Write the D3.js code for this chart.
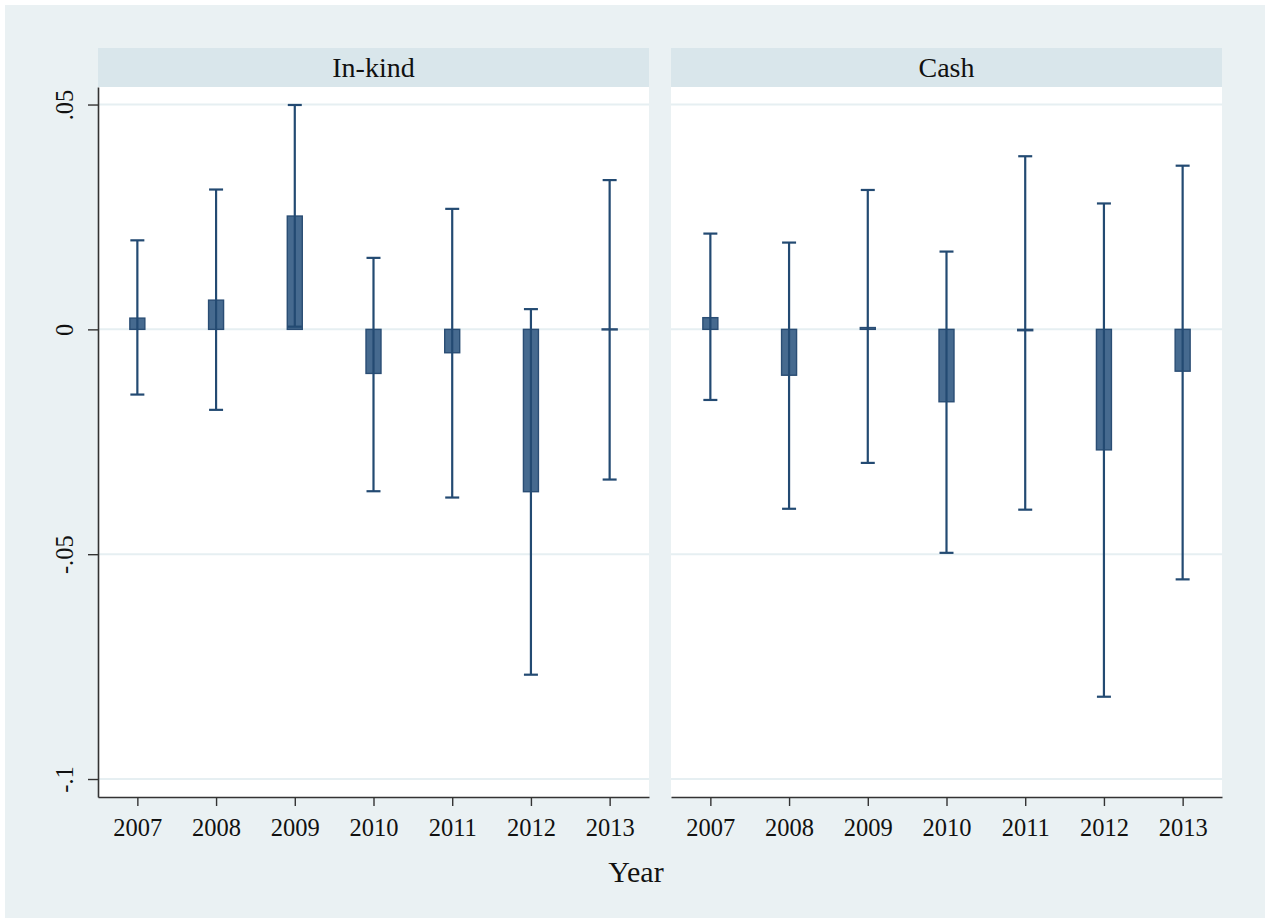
<!DOCTYPE html>
<html>
<head>
<meta charset="utf-8">
<script src="https://cdn.jsdelivr.net/npm/d3@7"></script>
<style>
  html, body { margin: 0; padding: 0; background: #ffffff; }
  svg { display: block; }
  text { font-family: "Liberation Serif", "DejaVu Serif", serif; fill: #111; }
</style>
</head>
<body>
<svg id="chart" width="1265" height="918"></svg>
<script>
// ---- data ----
const years = [2007, 2008, 2009, 2010, 2011, 2012, 2013];
const panels = ["In-kind", "Cash"];
const inkindEst = [0.0025, 0.0065, 0.0252, -0.0098, -0.0052, -0.0361, 0.0001];
const inkindLo  = [-0.0145, -0.0179, 0.0006, -0.0360, -0.0374, -0.0768, -0.0334];
const inkindHi  = [0.0198, 0.0311, 0.0499, 0.0159, 0.0268, 0.0045, 0.0332];
const cashEst = [0.0026, -0.0102, 0.0004, -0.0161, -0.0003, -0.0268, -0.0093];
const cashLo  = [-0.0157, -0.0399, -0.0297, -0.0497, -0.0401, -0.0817, -0.0556];
const cashHi  = [0.0213, 0.0193, 0.0310, 0.0173, 0.0385, 0.0280, 0.0364];
const yTickValues = [0.05, 0, -0.05, -0.1];
const yTickLabels = [".05", "0", "-.05", "-.1"];
const xAxisTitle = "Year";

const series = [
  { name: panels[0], est: inkindEst, lo: inkindLo, hi: inkindHi },
  { name: panels[1], est: cashEst, lo: cashLo, hi: cashHi }
];

const svg = d3.select("#chart");
const bg = "#eaf1f3";

// background
svg.append("rect").attr("x", 5).attr("y", 5).attr("width", 1260).attr("height", 913).attr("fill", bg);

const plotTop = 87, plotBottom = 797, stripTop = 48;
const panelX = [[98, 649], [671, 1222]];

const y = d3.scaleLinear().domain([-0.104, 0.0539]).range([plotBottom, plotTop]);

series.forEach((s, pi) => {
  const [x0, x1] = panelX[pi];
  const x = d3.scaleLinear().domain([2006.5, 2013.5]).range([x0, x1]);
  const g = svg.append("g");

  // strip
  g.append("rect").attr("x", x0).attr("y", stripTop).attr("width", x1 - x0).attr("height", plotTop - stripTop).attr("fill", "#d9e6eb");
  g.append("text").attr("x", (x0 + x1) / 2).attr("y", 77).attr("text-anchor", "middle")
    .style("font-size", "28px").text(s.name);

  // plot area
  g.append("rect").attr("x", x0).attr("y", plotTop).attr("width", x1 - x0).attr("height", plotBottom - plotTop).attr("fill", "#ffffff");

  // gridlines
  g.selectAll("line.grid").data(yTickValues).join("line").attr("class", "grid")
    .attr("x1", x0).attr("x2", x1).attr("y1", d => y(d)).attr("y2", d => y(d))
    .attr("stroke", "#e6eff2").attr("stroke-width", 2);

  // bars
  g.selectAll("rect.bar").data(years).join("rect").attr("class", "bar")
    .attr("x", (d) => x(d) - 7.5)
    .attr("width", 15)
    .attr("y", (d, i) => Math.min(y(0), y(s.est[i])))
    .attr("height", (d, i) => Math.max(1, Math.abs(y(s.est[i]) - y(0))))
    .attr("fill", "#466a8f").attr("stroke", "#2a4d74").attr("stroke-width", 1.4);

  // error bars
  const eb = g.selectAll("g.eb").data(years).join("g").attr("class", "eb");
  eb.append("line").attr("x1", d => x(d)).attr("x2", d => x(d))
    .attr("y1", (d, i) => y(s.lo[i])).attr("y2", (d, i) => y(s.hi[i]))
    .attr("stroke", "#234a72").attr("stroke-width", 2.2);
  eb.append("line").attr("x1", d => x(d) - 7).attr("x2", d => x(d) + 7)
    .attr("y1", (d, i) => y(s.lo[i])).attr("y2", (d, i) => y(s.lo[i]))
    .attr("stroke", "#234a72").attr("stroke-width", 2.2);
  eb.append("line").attr("x1", d => x(d) - 7).attr("x2", d => x(d) + 7)
    .attr("y1", (d, i) => y(s.hi[i])).attr("y2", (d, i) => y(s.hi[i]))
    .attr("stroke", "#234a72").attr("stroke-width", 2.2);

  // x axis
  const xAxis = d3.axisBottom(x).tickValues(years).tickFormat(d3.format("d")).tickSize(9).tickSizeOuter(0).tickPadding(13);
  const gx = g.append("g").attr("transform", `translate(0,${plotBottom})`).call(xAxis);
  gx.select(".domain").attr("stroke", "#333").attr("stroke-width", 1.6);
  gx.selectAll(".tick line").attr("stroke", "#333").attr("stroke-width", 1.4);
  gx.selectAll(".tick text").style("font-size", "24.5px").style("font-family", "Liberation Serif, serif").attr("fill", "#111");

  if (pi === 0) {
    const yAxis = d3.axisLeft(y).tickValues(yTickValues).tickFormat((d, i) => yTickLabels[i]).tickSize(10).tickSizeOuter(0).tickPadding(10);
    const gy = g.append("g").attr("transform", `translate(${x0},0)`).call(yAxis);
    gy.select(".domain").attr("stroke", "#333").attr("stroke-width", 1.6);
    gy.selectAll(".tick line").attr("stroke", "#333").attr("stroke-width", 1.4);
    gy.selectAll(".tick text")
      .attr("x", null).attr("dy", null)
      .attr("transform", "translate(-25,0) rotate(-90)")
      .attr("text-anchor", "middle").attr("y", 0).attr("x", 0)
      .style("font-size", "24.5px").style("font-family", "Liberation Serif, serif").attr("fill", "#111");
  }
});

svg.append("text").attr("x", 636).attr("y", 882).attr("text-anchor", "middle")
  .style("font-size", "30px").text(xAxisTitle);
</script>
</body>
</html>
